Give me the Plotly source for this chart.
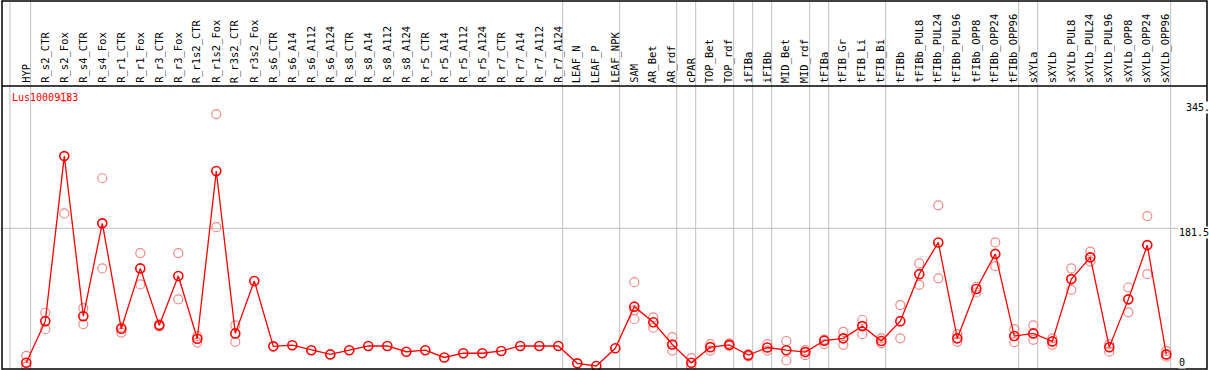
import plotly.graph_objects as go

categories = ["HYP", "R_s2_CTR", "R_s2_Fox", "R_s4_CTR", "R_s4_Fox", "R_r1_CTR", "R_r1_Fox",
              "R_r3_CTR", "R_r3_Fox", "R_r1s2_CTR", "R_r1s2_Fox", "R_r3s2_CTR", "R_r3s2_Fox",
              "R_s6_CTR", "R_s6_A14", "R_s6_A112", "R_s6_A124", "R_s8_CTR", "R_s8_A14", "R_s8_A112",
              "R_s8_A124", "R_r5_CTR", "R_r5_A14", "R_r5_A112", "R_r5_A124", "R_r7_CTR", "R_r7_A14",
              "R_r7_A112", "R_r7_A124", "LEAF_N", "LEAF_P", "LEAF_NPK", "SAM", "AR_Bet", "AR_rdf",
              "cPAR", "TOP_Bet", "TOP_rdf", "iFIBa", "iFIBb", "MID_Bet", "MID_rdf", "tFIBa",
              "tFIB_Gr", "tFIB_Li", "tFIB_Bi", "tFIBb", "tFIBb_PUL8", "tFIBb_PUL24", "tFIBb_PUL96",
              "tFIBb_OPP8", "tFIBb_OPP24", "tFIBb_OPP96", "sXYLa", "sXYLb", "sXYLb_PUL8",
              "sXYLb_PUL24", "sXYLb_PUL96", "sXYLb_OPP8", "sXYLb_OPP24", "sXYLb_OPP96"]

means = [5.5, 60, 276, 66.5, 188, 50, 129, 54.5, 119, 37, 256.5, 44, 112.5,
         27, 28.5, 22, 16.5, 22, 27.5, 27.5, 20, 22, 12.5, 18, 18, 21, 27.5, 27.5, 27.5,
         4.8, 1.3, 24.5, 79, 58.5, 29.5, 5.5, 26, 29, 15.5, 25.5, 22, 19.5, 34.5, 37.5,
         53.5, 34, 60, 121.5, 163, 37.5, 102, 148, 40.5, 44, 33.5, 115, 143.5, 26, 88.5,
         159.5, 16.5]

rep_a = [14.5, 71, 353, 77, 247, 52, 149, 56, 149, 40.5, 331, 54.5, None,
         None, None, None, None, None, None, None, None, None, None, None, None, None, None, None, None,
         None, None, None, 111, 65, 39, 11.5, 30, 31, 16.5, 30, 34, 22, 36, 46,
         61.5, 37.5, 81, 135.5, 211.5, 43, 105, 163, 49.5, 54.5, 37.5, 129, 151, 30, 104,
         197.5, 21]

rep_b = [0.5, 49.5, 201, 56, 129, 45, 108, 53, 88.5, 32, 183, 33, None,
         None, None, None, None, None, None, None, None, None, None, None, None, None, None, None, None,
         None, None, None, 74.5, 51.5, 21.5, 0.5, 21.5, 27.5, 14, 21.5, 8.5, 15.5, 30, 29,
         43, 31, 37.5, 107.5, 116, 33, 97.5, 132, 32.5, 35.5, 29, 101, 138, 20, 71.5,
         121.5, 13.5]

rep_c = [None] * 32 + [62.5] + [None] * 28

# category indices after which a group separator line is drawn
separators_after = [-1, 0, 28, 31, 34, 35, 37, 38, 39, 41, 42, 45, 52, 53, 60]

gene_name = "Lus10009183"
y_tick_labels = ["345.7", "181.5", "0"]
y_tick_values = [345.7, 181.5, 0]

W, H = 1209, 370
ML, MR, MT, MB = 2, 2, 1, 1
PLOT_H = H - MT - MB          # 368
DATA_TOP_PX = 86              # divider line between labels and data area

def py(px):
    """pixel row -> paper y"""
    return (H - MB - px) / PLOT_H

xidx = list(range(len(categories)))
RED = "#FF0000"
PINK = "#F08A8A"

fig = go.Figure()

for reps in (rep_a, rep_b, rep_c):
    fig.add_trace(go.Scatter(
        x=xidx, y=reps, mode="markers",
        marker=dict(symbol="circle-open", size=9, color=PINK, line=dict(width=1.2, color=PINK)),
        hoverinfo="skip", showlegend=False, cliponaxis=False))

fig.add_trace(go.Scatter(
    x=xidx, y=means, mode="lines+markers",
    line=dict(color=RED, width=1.3),
    marker=dict(symbol="circle-open", size=9, color=RED, line=dict(width=1.6, color=RED)),
    showlegend=False, cliponaxis=False))

shapes = []
for s in separators_after:
    xv = s + 0.23 if s >= 0 else -0.86
    shapes.append(dict(type="line", xref="x", yref="paper", x0=xv, x1=xv, y0=0, y1=1,
                       line=dict(color="#C0C0C0", width=1), layer="below"))
# horizontal grid line
shapes.append(dict(type="line", xref="paper", yref="y", x0=0, x1=1, y0=181.5, y1=181.5,
                   line=dict(color="#C0C0C0", width=1), layer="below"))
# divider and border
shapes.append(dict(type="line", xref="paper", yref="paper", x0=0, x1=1,
                   y0=py(DATA_TOP_PX), y1=py(DATA_TOP_PX), line=dict(color="black", width=1.5)))
shapes.append(dict(type="rect", xref="paper", yref="paper", x0=0, x1=1, y0=0, y1=1,
                   line=dict(color="black", width=1.5)))

annotations = []
for i, c in enumerate(categories):
    annotations.append(dict(x=i, y=py(84), xref="x", yref="paper", text=c, textangle=-90,
                            showarrow=False, xanchor="center", yanchor="bottom",
                            font=dict(family="DejaVu Sans Mono", size=10.5, color="black"),
                            borderpad=0))
annotations.append(dict(x=0.007, y=py(97), xref="paper", yref="paper", text=gene_name,
                        showarrow=False, xanchor="left", yanchor="middle",
                        font=dict(family="DejaVu Sans Mono", size=10, color=RED)))
label_x_px = [1185, 1178, 1178]
label_shift = [-5, -4, 5]
for t, v, xp, sh in zip(y_tick_labels, y_tick_values, label_x_px, label_shift):
    annotations.append(dict(x=(xp - ML) / (W - ML - MR), y=v, xref="paper", yref="y", text=t,
                            showarrow=False, xanchor="left", yanchor="middle", yshift=sh,
                            font=dict(family="DejaVu Sans Mono", size=10, color="black"),
                            bgcolor="white", borderpad=0))

px_per_cat = 19.0
x0_px = 26.3
xr0 = -(x0_px - ML) / px_per_cat
xr1 = xr0 + (W - ML - MR) / px_per_cat

y_scale = 0.7642
zero_px = 367.0
data_h = (H - MB) - DATA_TOP_PX
yr0 = -((H - MB) - zero_px) / y_scale
yr1 = yr0 + data_h / y_scale

fig.update_layout(
    width=W, height=H,
    margin=dict(l=ML, r=MR, t=MT, b=MB, pad=0),
    paper_bgcolor="white", plot_bgcolor="white",
    xaxis=dict(range=[xr0, xr1], showgrid=False, zeroline=False, showticklabels=False,
               showline=False, ticks=""),
    yaxis=dict(range=[yr0, yr1], domain=[0, py(DATA_TOP_PX)], showgrid=False, zeroline=False,
               showticklabels=False, showline=False, ticks=""),
    shapes=shapes, annotations=annotations,
)

fig.write_html("out.html", config={"displayModeBar": False},
               post_script="document.body.style.margin='0px';document.body.style.overflow='hidden';")
